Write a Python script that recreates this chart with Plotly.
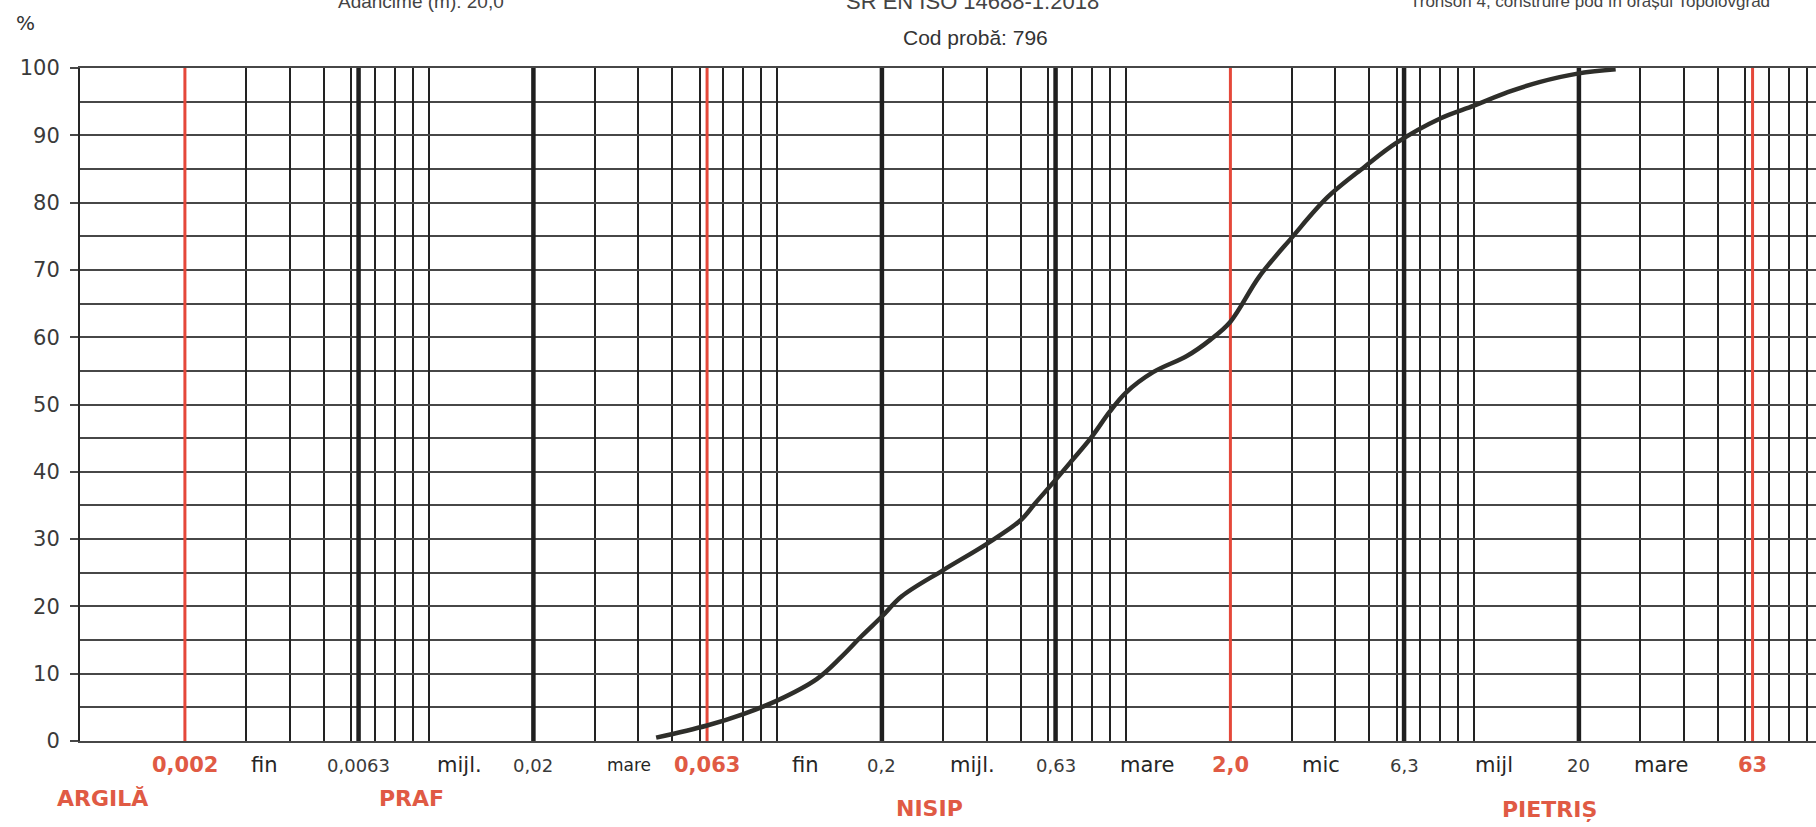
import numpy as np
import plotly.graph_objects as go

# ---------------- data ----------------
diam_mm = [0.045, 0.063, 0.08, 0.1, 0.13, 0.153, 0.175, 0.2, 0.228, 0.3, 0.4, 0.5, 0.55,
           0.63, 0.7, 0.8, 0.9, 1.0, 1.2, 1.5, 1.75, 2.0, 2.42, 3.0, 3.8, 4.85, 6.0,
           8.0, 10.0, 12.5, 15.4, 20.0, 25.5]
passing_pct = [0.5, 2.3, 4.0, 6.0, 9.2, 12.5, 15.6, 18.5, 21.5, 25.4, 29.3, 32.8, 35.3,
               38.8, 41.6, 45.2, 48.9, 51.7, 54.8, 57.2, 59.6, 62.3, 69.0, 74.8, 80.8, 85.3, 88.9,
               92.5, 94.4, 96.4, 97.9, 99.2, 99.8]

red_bounds = [0.002, 0.063, 2.0, 63.0]
red_labels = ["0,002", "0,063", "2,0", "63"]
black_bounds = [0.0063, 0.02, 0.2, 0.63, 6.3, 20.0]
black_labels = ["0,0063", "0,02", "0,2", "0,63", "6,3", "20"]
sub_labels = ["fin", "mijl.", "mare", "fin", "mijl.", "mare", "mic", "mijl", "mare"]
sub_label_pos = [0.00338, 0.0123, 0.0375, 0.121, 0.363, 1.15, 3.65, 11.4, 34.4]
class_labels = ["ARGILĂ", "PRAF", "NISIP", "PIETRIȘ"]
class_label_pos = [0.00116, 0.00893, 0.273, 16.5]
y_tick_vals = list(range(0, 101, 10))
grid_x = [m * 10.0 ** k for k in range(-3, 2) for m in range(1, 10)][1:]

# ---------------- layout geometry ----------------
W, H = 1816, 827
L, R, T, B = 80, 0, 68, 86
PW, PH = W - L - R, H - T - B
DECADE = 348.5
X0 = -3.0


def py(y_px):
    return (T + PH - y_px) / PH


def pxx(x_px):
    return (x_px - L) / PW


RED = "#e5483a"
RED_TXT = "#e05a44"
INK = "#262626"
HGRID = "#474747"

fig = go.Figure()

for v in black_bounds:
    fig.add_trace(go.Scatter(x=[v, v], y=[0, 100], mode="lines",
                             line=dict(color="#1f1f1f", width=4.5), hoverinfo="skip"))
for v in red_bounds:
    fig.add_trace(go.Scatter(x=[v, v], y=[0, 100], mode="lines",
                             line=dict(color=RED, width=3), hoverinfo="skip"))

fig.add_trace(go.Scatter(x=diam_mm, y=passing_pct, mode="lines",
                         line=dict(color="#2e2e2a", width=4.5, shape="spline", smoothing=1.0),
                         cliponaxis=True))

ann = []
row1 = py(765)
for v, t in zip(red_bounds, red_labels):
    ann.append(dict(x=np.log10(v), y=row1, xref="x", yref="paper", text=t, showarrow=False,
                    xanchor="center", yanchor="middle",
                    font=dict(family="DejaVu Sans", size=21, color=RED_TXT, weight="bold")))
for v, t in zip(black_bounds, black_labels):
    ann.append(dict(x=np.log10(v), y=row1, xref="x", yref="paper", text=t, showarrow=False,
                    xanchor="center", yanchor="middle",
                    font=dict(family="DejaVu Sans", size=18, color="#3a3a3a")))
for i, (v, t) in enumerate(zip(sub_label_pos, sub_labels)):
    sz = 17 if i == 2 else 21
    ann.append(dict(x=np.log10(v), y=row1, xref="x", yref="paper", text=t, showarrow=False,
                    xanchor="center", yanchor="middle",
                    font=dict(family="DejaVu Sans", size=sz, color=INK)))
row2_px = [798, 798, 808, 809]
for v, t, ypx in zip(class_label_pos, class_labels, row2_px):
    ann.append(dict(x=np.log10(v), y=py(ypx), xref="x", yref="paper", text=t, showarrow=False,
                    xanchor="center", yanchor="middle",
                    font=dict(family="DejaVu Sans", size=22, color=RED_TXT, weight="bold")))

# "%" label and header texts (partially cut at the top edge, as in the scan)
ann.append(dict(x=pxx(25), y=py(23), xref="paper", yref="paper", text="%", showarrow=False,
                xanchor="center", yanchor="middle",
                font=dict(family="DejaVu Sans", size=20, color="#333")))
ann.append(dict(x=pxx(421), y=py(2), xref="paper", yref="paper", text="Adâncime (m): 20,0",
                showarrow=False, xanchor="center", yanchor="middle",
                font=dict(family="Liberation Sans", size=19, color="#444")))
ann.append(dict(x=pxx(972), y=py(2), xref="paper", yref="paper", text="SR EN ISO 14688-1:2018",
                showarrow=False, xanchor="center", yanchor="middle",
                font=dict(family="Liberation Sans", size=22, color="#444")))
ann.append(dict(x=pxx(975), y=py(38), xref="paper", yref="paper", text="Cod probă: 796",
                showarrow=False, xanchor="center", yanchor="middle",
                font=dict(family="Liberation Sans", size=21, color="#333")))
ann.append(dict(x=pxx(1408), y=py(2), xref="paper", yref="paper",
                text="Tronson 4, construire pod în orașul Topolovgrad",
                showarrow=False, xanchor="left", yanchor="middle",
                font=dict(family="Liberation Sans", size=17, color="#444")))

fig.update_layout(
    width=W, height=H,
    margin=dict(l=L, r=R, t=T, b=B, pad=0, autoexpand=False),
    paper_bgcolor="white", plot_bgcolor="white",
    showlegend=False,
    annotations=ann,
    xaxis=dict(type="log", range=[X0, X0 + PW / DECADE], tickvals=grid_x, showticklabels=False,
               ticks="", showgrid=True, gridcolor="#222", gridwidth=1.5, automargin=False,
               showline=True, linecolor=HGRID, linewidth=2, mirror=True, zeroline=False),
    yaxis=dict(range=[0, 100], tickvals=y_tick_vals, ticktext=[str(v) for v in y_tick_vals],
               ticks="outside", ticklen=8, tickwidth=2, tickcolor=HGRID, ticklabelstandoff=6,
               tickfont=dict(family="DejaVu Sans", size=21, color="#3a3a3a"), automargin=False,
               showgrid=True, gridcolor=HGRID, gridwidth=2,
               minor=dict(dtick=5, showgrid=True, gridcolor=HGRID, gridwidth=2, ticks=""),
               showline=True, linecolor=INK, linewidth=2, zeroline=False),
)

fig.write_html("out.html", config={"displayModeBar": False},
               post_script="document.body.style.margin='0';document.body.style.overflow='hidden';")
